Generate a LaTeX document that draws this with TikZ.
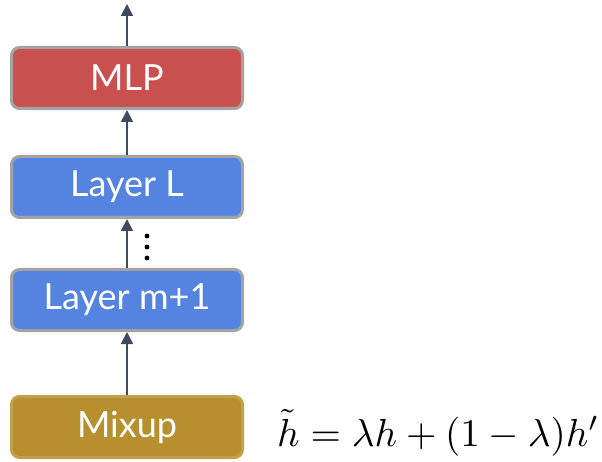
\documentclass[tikz,border=0pt]{standalone}
\usepackage{fontspec}
\usepackage{graphicx}
\setmainfont{Lato}
\usetikzlibrary{arrows.meta}
\definecolor{mlpred}{HTML}{C8504E}
\definecolor{layerblue}{HTML}{5584E0}
\definecolor{mixgold}{HTML}{B78F2E}
\definecolor{edgegrey}{HTML}{A3A3A3}
\definecolor{arrowslate}{HTML}{3F4C60}
\begin{document}
\begin{tikzpicture}[x=1pt,y=-1pt,
  block/.style={draw=edgegrey, line width=3pt, rounded corners=8pt,
    minimum width=231pt, minimum height=61pt, inner sep=0pt,
    text=white, font=\fontsize{36}{40}\selectfont},
  flow/.style={draw=arrowslate, line width=1.8pt,
    -{Triangle[length=12pt,width=12pt]}}]
\useasboundingbox (0,0) rectangle (602,462);
\node[block, fill=mlpred] (mlp) at (127,78) {MLP};
\node[block, fill=layerblue] (layL) at (127,187) {Layer L};
\node[block, fill=layerblue] (laym) at (127,300) {Layer m+1};
\node[block, fill=mixgold, draw=mixgold!85!white] (mix) at (127,427) {Mixup};
\coordinate (out) at (127,4);
\draw[flow] (mlp.north) -- (out);
\draw[flow] (layL.north) -- (mlp.south);
\draw[flow] (laym.north) -- (layL.south);
\draw[flow] (mix.north) -- (laym.south);
\foreach \y in {236,247,258} \fill (147,\y) circle (2.4pt);
\node[anchor=base west, inner sep=0pt] (eq) at (277,446)
  {\resizebox{322pt}{!}{$\tilde{h} = \lambda h + (1-\lambda)h'$}};
\end{tikzpicture}
\end{document}
